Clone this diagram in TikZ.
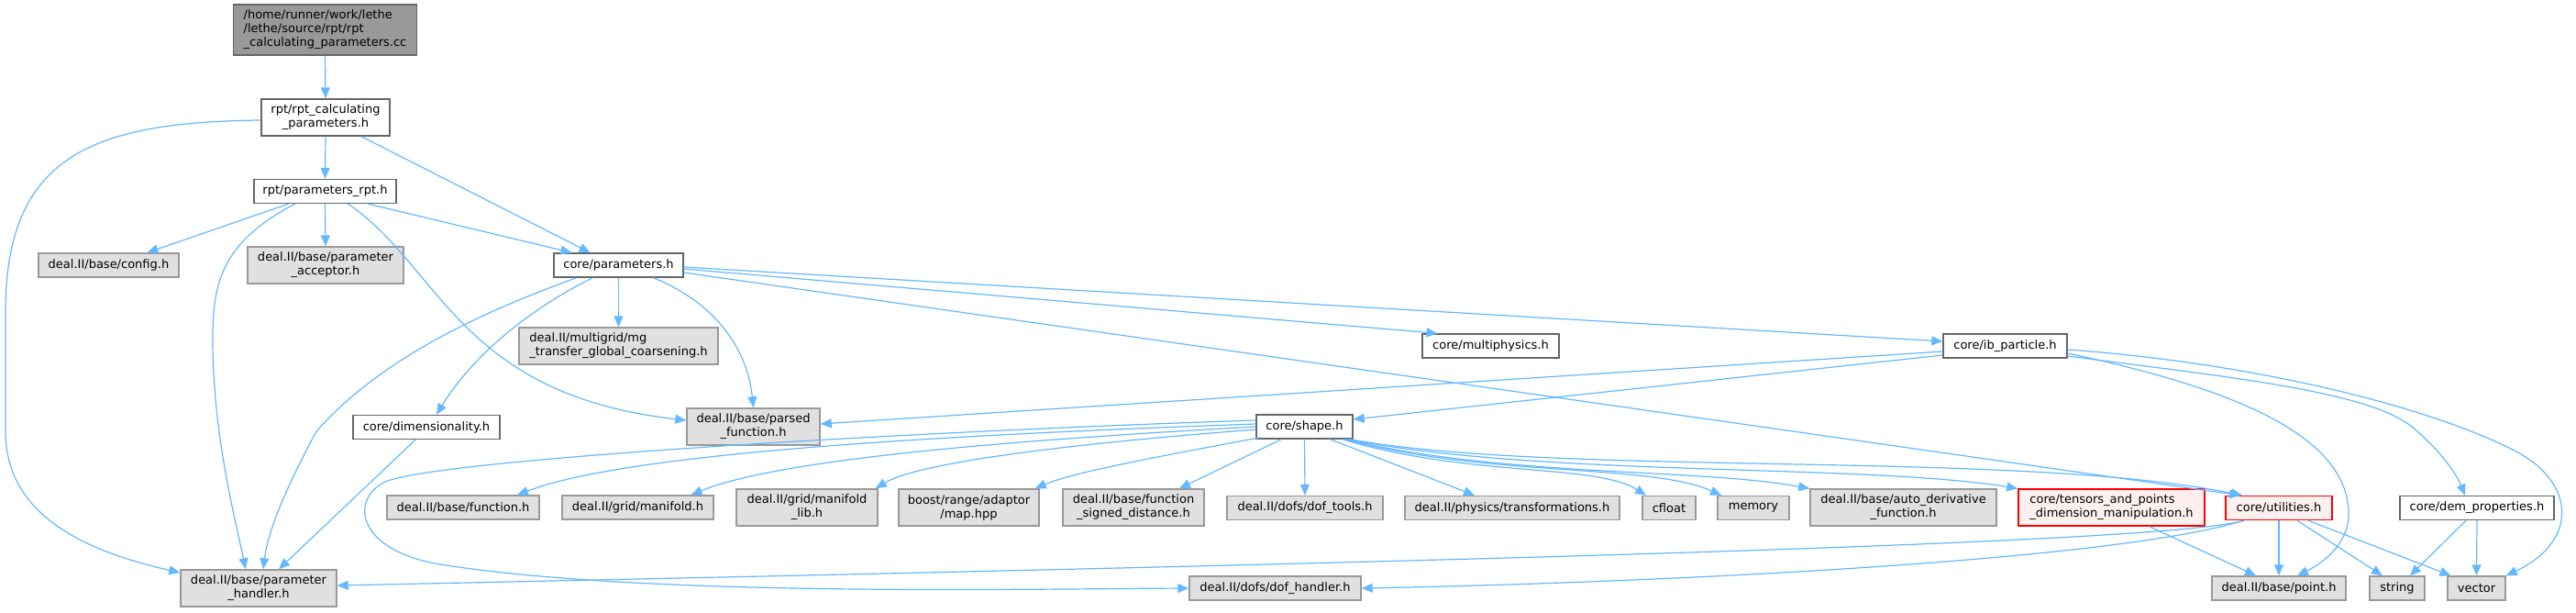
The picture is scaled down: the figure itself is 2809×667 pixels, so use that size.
\documentclass[tikz,border=0pt]{standalone}
\usepackage{fontspec}
\setmainfont{DejaVu Sans}
\usetikzlibrary{arrows.meta,calc}
\definecolor{edgec}{HTML}{63B8FF}
\definecolor{grayfill}{HTML}{E0E0E0}
\definecolor{grayline}{HTML}{999999}
\definecolor{darkline}{HTML}{666666}
\definecolor{rootfill}{HTML}{999999}
\definecolor{redfill}{HTML}{FFF0F0}
\definecolor{redline}{HTML}{FF0000}
\tikzset{
  box/.style={rectangle, inner sep=0pt, line width=1.4pt, font=\fontsize{13}{15}\selectfont, align=center},
  sysbox/.style={box, fill=grayfill, draw=grayline},
  locbox/.style={box, fill=white, draw=darkline},
  redbox/.style={box, fill=redfill, draw=redline},
  rootbox/.style={box, fill=rootfill, draw=darkline},
  one/.style={minimum height=26pt},
  two/.style={minimum height=40pt},
  edge/.style={draw=edgec, line width=1.2pt, -{Triangle[length=12pt,width=10pt]}, fill=none}
}
\begin{document}
\begin{tikzpicture}[x=1pt,y=-1pt]
\path[use as bounding box] (0,0) rectangle (2809,667);
% nodes
\node[rootbox, minimum width=200pt, minimum height=55pt, align=left] (root) at (354.5,32.5) {/home/runner/work/lethe\\/lethe/source/rpt/rpt\\\_calculating\_parameters.cc};
\node[locbox, two, minimum width=140pt] (rcalc) at (355,128) {rpt/rpt\_calculating\\\_parameters.h};
\node[locbox, one, minimum width=155pt] (prpt) at (354.5,208.5) {rpt/parameters\_rpt.h};
\node[sysbox, one, minimum width=153pt] (config) at (118.5,289) {deal.II/base/config.h};
\node[sysbox, two, minimum width=170pt] (acceptor) at (355,289) {deal.II/base/parameter\\\_acceptor.h};
\node[locbox, one, minimum width=141pt] (cpar) at (674.5,289) {core/parameters.h};
\node[sysbox, two, minimum width=217pt, align=left] (mgt) at (674.5,377) {deal.II/multigrid/mg\\\_transfer\_global\_coarsening.h};
\node[locbox, one, minimum width=160pt] (dimen) at (465,465.5) {core/dimensionality.h};
\node[sysbox, two, minimum width=145pt] (parsed) at (821.5,465) {deal.II/base/parsed\\\_function.h};
\node[sysbox, one, minimum width=166pt] (func) at (505,553) {deal.II/base/function.h};
\node[sysbox, one, minimum width=165pt] (manif) at (695.5,553) {deal.II/grid/manifold.h};
\node[sysbox, two, minimum width=154pt] (maniflib) at (880,553) {deal.II/grid/manifold\\\_lib.h};
\node[sysbox, two, minimum width=170pt] (phandler) at (282,641) {deal.II/base/parameter\\\_handler.h};
\node[sysbox, two, minimum width=153pt] (boost) at (1056.5,553) {boost/range/adaptor\\/map.hpp};
\node[sysbox, two, minimum width=154pt] (signed) at (1236,553) {deal.II/base/function\\\_signed\_distance.h};
\node[sysbox, one, minimum width=170pt] (doftools) at (1423,553.5) {deal.II/dofs/dof\_tools.h};
\node[sysbox, one, minimum width=234pt] (transf) at (1649,553.5) {deal.II/physics/transformations.h};
\node[sysbox, one, minimum width=58pt] (cfloat) at (1820,553.5) {cfloat};
\node[sysbox, one, minimum width=78pt] (memory) at (1912,553.5) {memory};
\node[sysbox, two, minimum width=203pt] (autoder) at (2075.5,553) {deal.II/base/auto\_derivative\\\_function.h};
\node[redbox, two, minimum width=203pt, align=left] (tensors) at (2302.5,553) {core/tensors\_and\_points\\\_dimension\_manipulation.h};
\node[redbox, one, minimum width=116pt] (util) at (2485,553.5) {core/utilities.h};
\node[locbox, one, minimum width=168pt] (dem) at (2701,553.5) {core/dem\_properties.h};
\node[locbox, one, minimum width=149pt] (multi) at (1625.5,377) {core/multiphysics.h};
\node[locbox, one, minimum width=105pt] (shape) at (1422.5,465) {core/shape.h};
\node[locbox, one, minimum width=135pt] (ibp) at (2186.5,377) {core/ib\_particle.h};
\node[sysbox, one, minimum width=187pt] (dofh) at (1390.5,641) {deal.II/dofs/dof\_handler.h};
\node[sysbox, one, minimum width=146pt] (point) at (2485,641) {deal.II/base/point.h};
\node[sysbox, one, minimum width=60pt] (string) at (2614,641) {string};
\node[sysbox, one, minimum width=63pt] (vector) at (2700.5,641) {vector};
% edges
\path[edge] (root.south) -- (rcalc.north);
\path[edge] (rcalc.south) -- (prpt.north);
\path[edge] ($(rcalc.south)+(39,0)$) -- ($(cpar.north)+(-31,0)$);
\path[edge] ($(rcalc.west)+(0,3)$) .. controls (100,133) and (6,170) .. (6,340) -- (6,470) .. controls (6,560) and (90,600) .. ($(phandler.west)+(0,-17)$);
\path[edge] ($(prpt.south)+(-40,0)$) -- ($(config.north)+(42,0)$);
\path[edge] (prpt.south) -- (acceptor.north);
\path[edge] ($(prpt.south)+(47,0)$) -- ($(cpar.north)+(-51,0)$);
\path[edge] ($(prpt.south)+(-33,0)$) .. controls (240,265) and (232,310) .. (232,370) .. controls (232,470) and (255,560) .. ($(phandler.north)+(-14,0)$);
\path[edge] ($(prpt.south)+(25,0)$) .. controls (480,290) and (500,430) .. ($(parsed.west)+(0,-7)$);
\path[edge] ($(cpar.south)+(-46,0)$) .. controls (540,335) and (420,385) .. (345,470) .. controls (310,535) and (292,580) .. ($(phandler.north)+(5,0)$);
\path[edge] ($(cpar.south)+(-28,0)$) .. controls (590,330) and (520,380) .. ($(dimen.north)+(11,0)$);
\path[edge] (cpar.south) -- (mgt.north);
\path[edge] ($(cpar.south)+(38,0)$) .. controls (780,330) and (815,380) .. (parsed.north);
\path[edge] ($(cpar.east)+(0,4)$) -- ($(multi.north)+(-58,0)$);
\path[edge] ($(cpar.east)+(0,2)$) -- ($(ibp.west)+(0,-5)$);
\path[edge] ($(cpar.east)+(0,8)$) -- ($(util.north)+(-42,0)$);
\path[edge] ($(dimen.south)+(-12,0)$) -- ($(phandler.north)+(22,0)$);
\path[edge] ($(ibp.west)+(0,6)$) -- ($(parsed.east)+(0,-3)$);
\path[edge] ($(ibp.west)+(0,10)$) -- ($(shape.east)+(0,-8)$);
\path[edge] ($(ibp.east)+(0,8)$) .. controls (2420,420) and (2561,470) .. (2561,560) .. controls (2561,595) and (2530,615) .. ($(point.north)+(20,0)$);
\path[edge] ($(ibp.east)+(0,11)$) .. controls (2420,410) and (2580,425) .. (2630,465) .. controls (2660,490) and (2678,515) .. ($(dem.north)+(-13,0)$);
\path[edge] ($(ibp.east)+(0,4)$) .. controls (2450,395) and (2640,440) .. (2740,490) .. controls (2810,525) and (2812,590) .. (vector.north east);
% shape fan
\path[edge] ($(shape.west)+(0,-3)$) .. controls (1000,475) and (680,495) .. ($(func.north)+(59,0)$);
\path[edge] ($(shape.west)+(0,0)$) .. controls (1100,480) and (850,500) .. ($(manif.north)+(58,0)$);
\path[edge] ($(shape.west)+(0,3)$) .. controls (1150,485) and (1000,505) .. ($(maniflib.north east)+(-3,0)$);
\path[edge] ($(shape.south west)+(5,-2)$) .. controls (1250,500) and (1170,515) .. ($(boost.north east)+(-5,0)$);
\path[edge] ($(shape.south)+(-25,0)$) -- ($(signed.north)+(50,0)$);
\path[edge] (shape.south) -- (doftools.north);
\path[edge] ($(shape.south)+(28,0)$) -- ($(transf.north)+(-41,0)$);
\path[edge] ($(shape.south east)+(-12,0)$) .. controls (1600,520) and (1740,505) .. ($(cfloat.north)+(-25,0)$);
\path[edge] ($(shape.south east)+(-10,0)$) .. controls (1620,520) and (1800,505) .. ($(memory.north)+(-35,0)$);
\path[edge] ($(shape.south east)+(-8,0)$) .. controls (1640,520) and (1850,510) .. (autoder.north west);
\path[edge] ($(shape.south east)+(-6,0)$) .. controls (1680,520) and (2030,505) .. (tensors.north west);
\path[edge] ($(shape.south east)+(-4,0)$) .. controls (1700,520) and (2200,490) .. ($(util.north)+(-40,0)$);
\path[edge] ($(shape.west)+(0,-7)$) .. controls (1000,470) and (480,500) .. (420,525) .. controls (380,545) and (390,600) .. (480,615) .. controls (700,650) and (1100,642) .. (dofh.west);
% utilities
\path[edge] ($(util.south)+(-38,0)$) .. controls (2360,592) and (1600,612) .. ($(phandler.east)+(0,-3)$);
\path[edge] ($(util.south)+(-38,0)$) .. controls (2300,612) and (1800,635) .. (dofh.east);
\path[edge] (util.south) -- (point.north);
\path[edge] ($(util.south)+(20,0)$) -- ($(string.north)+(-16,0)$);
\path[edge] ($(util.south)+(32,0)$) -- ($(vector.north)+(-28,0)$);
\path[edge] ($(tensors.south)+(41,0)$) -- ($(point.north)+(-25,0)$);
\path[edge] ($(dem.south)+(-12,0)$) -- ($(string.north)+(14,0)$);
\path[edge] (dem.south) -- (vector.north);
\end{tikzpicture}
\end{document}
